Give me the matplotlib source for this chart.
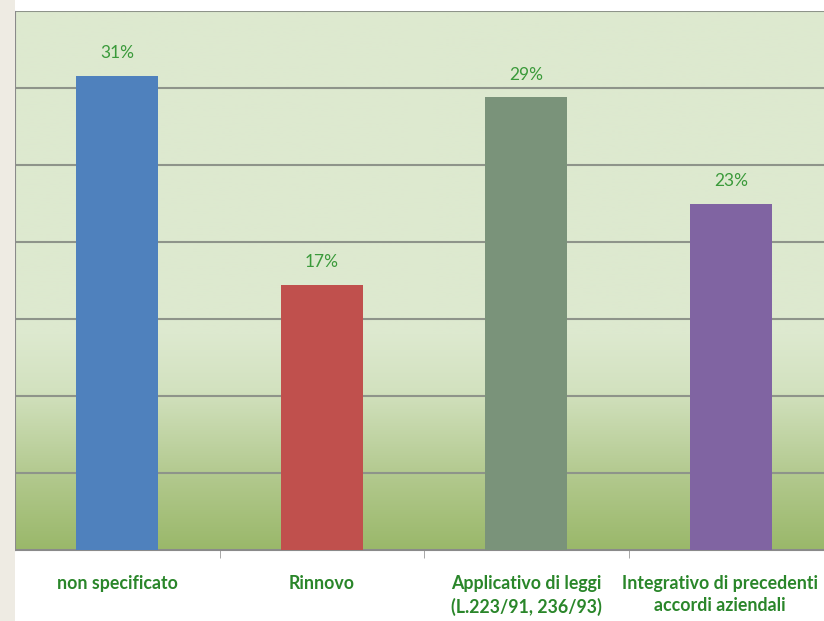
import numpy as np
import matplotlib.pyplot as plt
import matplotlib.transforms as mtransforms
from matplotlib.colors import LinearSegmentedColormap
from matplotlib.patches import Rectangle

categories = ['non specificato', 'Rinnovo', 'Applicativo di leggi\n(L.223/91, 236/93)',
              'Integrativo di precedenti\naccordi aziendali']
values = [30.8, 17.2, 29.4, 22.5]
labels = ['31%', '17%', '29%', '23%']
colors = ['#4F81BD', '#C0504D', '#7A937A', '#8064A2']

plt.rcParams['font.family'] = ['Lato', 'DejaVu Sans']

fig = plt.figure(figsize=(8.24, 6.21), dpi=100)
fig.patch.set_facecolor('white')
# beige strip on the left
fig.patches.append(Rectangle((0, 0), 15 / 824, 1, transform=fig.transFigure,
                             facecolor='#EEEBE3', edgecolor='none', zorder=0))

ax = fig.add_axes([15 / 824, 71 / 621, 818 / 824, 539 / 621])

# background gradient: light green on top, darker green at the bottom
cmap = LinearSegmentedColormap.from_list('bg', [(0, '#9AB86A'), (0.13, '#B1C88C'),
                                                (0.3, '#D3E2C0'), (0.4, '#DDE9CF'),
                                                (1, '#DDE9CF')])
grad = np.linspace(0, 1, 256).reshape(-1, 1)
ax.imshow(grad, cmap=cmap, aspect='auto', origin='lower',
          extent=[-0.5, 3.5, 0, 35], zorder=0)

x = np.arange(len(categories))
ax.bar(x, values, width=0.4, color=colors, zorder=3)
for xi, v, lab in zip(x, values, labels):
    ax.text(xi, v + 0.95, lab, ha='center', va='bottom', fontsize=12.5,
            color='#3A9A3A', zorder=4)

ax.set_xlim(-0.5, 3.5)
ax.set_ylim(0, 35)
ax.set_yticks(np.arange(5, 36, 5))
ax.yaxis.grid(True, color='#8E948A', linewidth=1.5, zorder=1)
ax.tick_params(axis='y', left=False, labelleft=False)

ax.set_xticks(x)
ax.set_xticklabels(categories, fontsize=12.8, fontweight='bold', color='#2A862A',
                   linespacing=1.38)
ax.tick_params(axis='x', length=0, pad=18)
ax.set_xticks([0.5, 1.5, 2.5], minor=True)
ax.tick_params(axis='x', which='minor', length=6, color='#999999', direction='out')

# last label is pulled left a bit so it fits, like in the original
last = ax.get_xticklabels()[-1]
last.set_transform(last.get_transform() +
                   mtransforms.ScaledTranslation(-0.11, 0, fig.dpi_scale_trans))

for s in ['top', 'right']:
    ax.spines[s].set_visible(False)
ax.spines['left'].set_color('#8A8A8A')
ax.spines['bottom'].set_color('#8A8A8A')
ax.spines['bottom'].set_linewidth(1.5)

fig.savefig('out.png', dpi=100)
